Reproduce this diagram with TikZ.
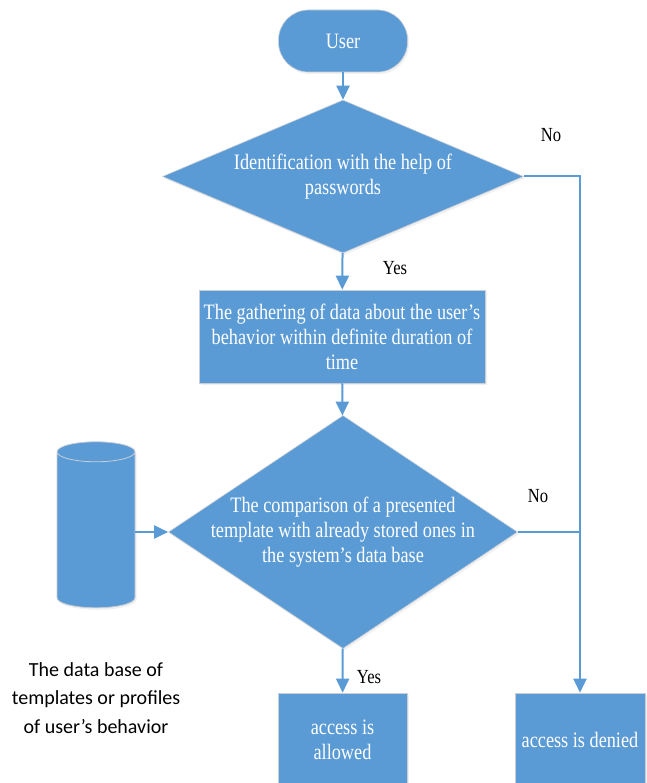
\documentclass[tikz,border=0pt]{standalone}
\usepackage{fontspec}
\setmainfont{Liberation Serif}
\newfontfamily\narrowserif{Liberation Serif}[FakeStretch=0.83]
\newfontfamily\calibrisans{Carlito}
\usetikzlibrary{positioning, calc, arrows.meta, shapes.geometric, shadows}
\definecolor{Flow}{HTML}{5B9BD5}
\definecolor{Edge}{HTML}{C9CED6}
\definecolor{Ink}{HTML}{000000}
\tikzset{
    flowbox/.style={rectangle, fill=Flow, draw=Edge, line width=0.6pt, text=white, align=center,
        font=\narrowserif\fontsize{22}{25}\selectfont,
        drop shadow={opacity=0.12, shadow xshift=1.5pt, shadow yshift=-2pt}},
    termbox/.style={flowbox, rounded corners=30pt, minimum width=129pt, minimum height=62pt},
    decision/.style={flowbox, diamond, inner sep=-8pt},
    dbshape/.style={cylinder, shape border rotate=90, aspect=3, fill=Flow, draw=Edge, line width=0.8pt,
        minimum width=78pt, minimum height=166pt,
        drop shadow={opacity=0.12, shadow xshift=1.5pt, shadow yshift=-2pt}},
    arrow/.style={-{Triangle[length=14pt, width=13pt]}, line width=2pt, color=Flow},
    link/.style={line width=2pt, color=Flow},
    answer/.style={text=Ink, font=\narrowserif\fontsize{20}{22}\selectfont},
    caption/.style={align=center, text=Ink, font=\calibrisans\fontsize{20}{28.5}\selectfont},
}

\begin{document}
\begin{tikzpicture}[x=1pt, y=-1pt]
    \useasboundingbox (0,0) rectangle (646,783);

    % --- Nodi principali ---
    \node[termbox] (user) at (343,41) {User};
    \node[decision, aspect=2.36, minimum width=361pt, minimum height=153pt] (ident) at (343,176.5)
        {Identification with the help of\\passwords};
    \node[flowbox, minimum width=286pt, minimum height=93pt] (gather) at (342,336.5)
        {The gathering of data about the user’s\\behavior within definite duration of\\time};
    \node[decision, aspect=1.5, minimum width=349pt, minimum height=233pt] (cmp) at (343,532)
        {The comparison of a presented\\template with already stored ones in\\the system’s data base};

    % Database
    \node[dbshape] (db) at (96,532) {};
    \node[caption] (dbcap) at (96,698) {The data base of\\templates or profiles\\of user’s behavior};

    % Esiti
    \node[flowbox, minimum width=129pt, minimum height=94pt] (allow) at (342.5,740) {access is\\allowed};
    \node[flowbox, minimum width=130pt, minimum height=94pt] (deny) at (580,740) {access is denied};

    % Etichette
    \node[answer] (no1) at (551,135) {No};
    \node[answer] (yes1) at (395,268) {Yes};
    \node[answer] (no2) at (538,496) {No};
    \node[answer] (yes2) at (369,677) {Yes};

    % --- Frecce ---
    \draw[arrow] (user) -- (ident);
    \draw[arrow] (ident) -- (gather);
    \draw[arrow] (gather) -- (cmp);
    \draw[arrow] (cmp) -- (allow);
    \draw[arrow] (cmp.west -| db.east) -- (cmp.west);
    \draw[arrow] (ident.east) -| (deny.north);
    \draw[link] (cmp.east) -- (cmp.east -| deny.north);
\end{tikzpicture}
\end{document}
